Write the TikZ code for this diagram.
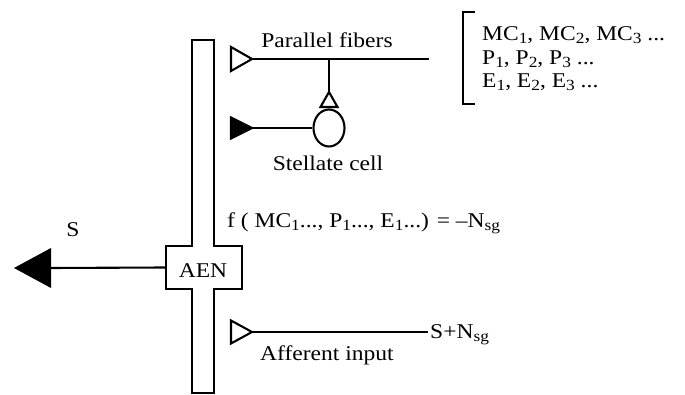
\documentclass[tikz,border=0pt]{standalone}
\usepackage{fontspec}
\setmainfont{Liberation Serif}[FakeStretch=1.12]
\usetikzlibrary{shapes.geometric}
\newcommand{\lsub}[1]{\raisebox{-3pt}{\fontsize{15.5}{15.5}\selectfont #1}}
\tikzset{
  ln/.style={line width=2.1pt, line join=miter},
  lbl/.style={font=\fontsize{21}{23}\selectfont, inner sep=0pt, anchor=base},
  lbll/.style={lbl, anchor=base west},
}
\begin{document}
\begin{tikzpicture}[x=1pt,y=-1pt]
\useasboundingbox (0,0) rectangle (685,395);
% bar with cross
\draw[ln] (192,40) -- (214,40) -- (214,246) -- (242,246) -- (242,289) -- (214,289)
  -- (214,393) -- (192,393) -- (192,289) -- (166,289) -- (166,246) -- (192,246) -- cycle;
\node[minimum width=76pt, minimum height=43pt, inner sep=0pt] (aen) at (204,267.5) {};
\node[lbl] (aenl) at (203,277) {AEN};
% output S
\coordinate (stip) at (14,268);
\coordinate (sbase) at (50,268);
\draw[ln] (aen.west) -- (sbase);
\fill (stip) -- (51,248) -- (51,288) -- cycle;
\node[lbl] (slbl) at (73,237) {S};
% parallel fibers
\coordinate (pftip) at (252,59);
\coordinate (pfend) at (429,59);
\coordinate (pfjoin) at (329,59);
\draw[ln] (pftip) -- ++(-21,-12) -- ++(0,24) -- cycle;
\draw[ln] (pftip) -- (pfend);
\node[lbl] (pflbl) at (327,48) {Parallel fibers};
% stellate
\node[ellipse, draw, line width=2.1pt, minimum width=31pt, minimum height=37pt, inner sep=0pt] (stel) at (329,128) {};
\coordinate (stup) at (329,92);
\draw[ln] (stup) -- ++(-8.5,15) -- ++(17,0) -- cycle;
\draw[ln] (pfjoin) -- (stup);
\coordinate (sttip) at (252,128);
\draw[ln, fill=black] (sttip) -- ++(-21,-10.5) -- ++(0,21) -- cycle;
\draw[ln] (sttip) -- (stel.west);
\node[lbl] (stlbl) at (328,171) {Stellate cell};
% bracket and list
\coordinate (bra) at (475,12);
\coordinate (brb) at (475,104);
\draw[ln] (bra) -- (463,12) -- (463,104) -- (brb);
\node[lbll] (l1) at (482,41) {MC\lsub{1}, MC\lsub{2}, MC\lsub{3} ...};
\node[lbll] (l2) at (482,65) {P\lsub{1}, P\lsub{2}, P\lsub{3} ...};
\node[lbll] (l3) at (482,88) {E\lsub{1}, E\lsub{2}, E\lsub{3} ...};
% function
\node[lbll] (fn) at (227,228) {f ( MC\lsub{1}..., P\lsub{1}..., E\lsub{1}...) = –N\lsub{sg}};
% afferent
\coordinate (aftip) at (252,332);
\coordinate (afend) at (428,332);
\draw[ln] (aftip) -- ++(-21,-11.5) -- ++(0,23) -- cycle;
\draw[ln] (aftip) -- (afend);
\node[lbll] (sn) at (430,338) {S+N\lsub{sg}};
\node[lbll] (aflbl) at (260,360) {Afferent input};
\end{tikzpicture}
\end{document}
